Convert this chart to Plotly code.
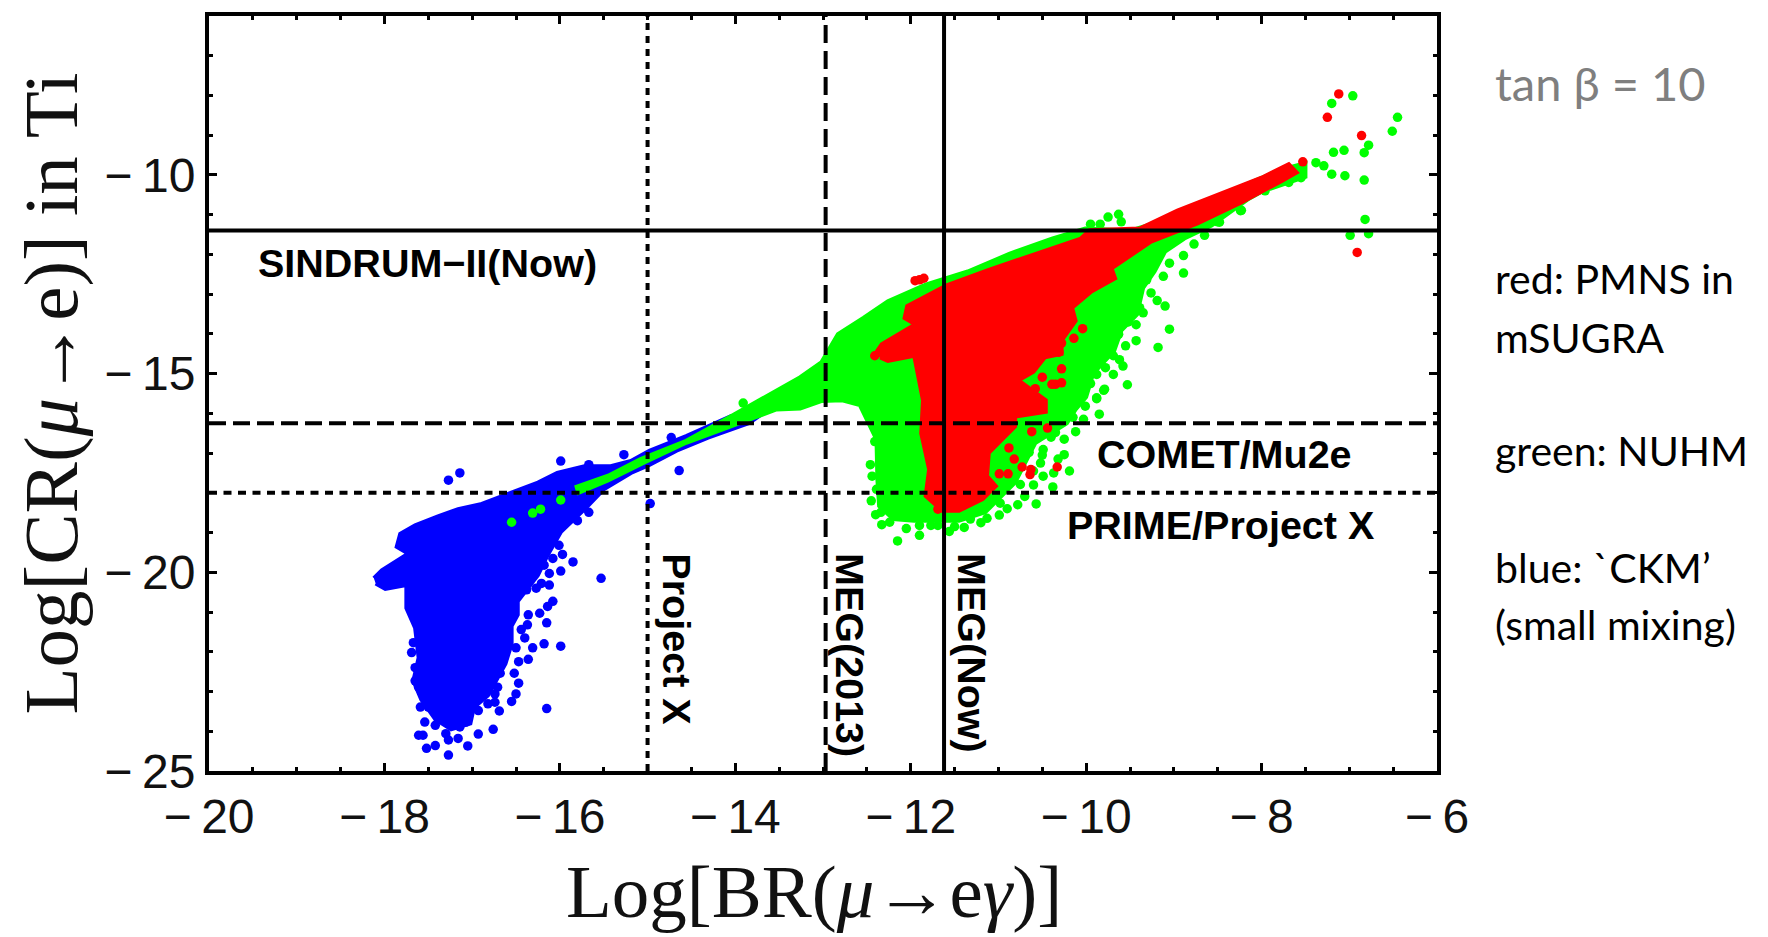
import plotly.graph_objects as go

blue_region_x = [-18.12,-18.03,-17.73,-17.86,-17.82,-17.65,-17.39,-17.16,-16.89,-16.55,-16.25,-16.03,-15.72,-15.42,-15.19,-14.98,-14.56,-14.05,-13.68,-13.84,-14.31,-14.67,-14.98,-15.19,-15.5,-15.68,-15.99,-16.14,-16.25,-16.48,-16.48,-16.55,-16.55,-16.62,-16.72,-16.82,-16.98,-17.02,-17.24,-17.42,-17.58,-17.67,-17.61,-17.65,-17.75,-17.75,-17.99,-18.1]
blue_region_y = [-20.15,-19.95,-19.53,-19.36,-19.03,-18.82,-18.59,-18.41,-18.28,-17.99,-17.74,-17.5,-17.33,-17.33,-17.2,-16.94,-16.57,-16.07,-15.99,-16.24,-16.61,-16.94,-17.30,-17.5,-17.91,-18.33,-18.99,-19.57,-20.07,-20.73,-21.07,-21.35,-21.8,-22.3,-22.7,-23.1,-23.4,-23.8,-23.95,-23.7,-23.2,-22.73,-22.15,-21.4,-20.9,-20.32,-20.42,-20.28]
blue_x = [-17.27,-17.14,-15.99,-15.67,-15.27,-15.67,-15.8,-15.53,-15.85,-15.99,-15.97,-16.01,-16.08,-16.12,-16.18,-16.12,-16.21,-16.27,-16.38,-16.08,-16.14,-16.23,-16.15,-16.36,-16.37,-16.44,-16.4,-16.31,-16.18,-15.99,-16.5,-16.36,-16.47,-16.68,-16.52,-16.47,-16.5,-16.55,-16.71,-16.74,-16.74,-16.69,-16.15,-16.82,-16.93,-16.95,-16.76,-16.93,-17.05,-17.16,-17.27,-17.3,-17.27,-17.42,-17.52,-17.61,-17.56,-17.54,-17.42,-17.59,-17.5,-17.65,-17.69,-17.67,-17.65,-17.61,-17.07,-17.33,-17.14,-14.73,-14.64,-14.97]
blue_y = [-17.68,-17.5,-17.2,-17.29,-17.04,-18.49,-18.7,-20.15,-19.74,-19.97,-19.55,-19.32,-19.65,-20.03,-19.82,-20.32,-20.28,-20.4,-20.44,-20.73,-20.86,-21.03,-21.27,-21.07,-21.32,-21.44,-21.65,-21.9,-21.8,-21.86,-21.9,-22.19,-22.25,-22.54,-22.54,-22.79,-23.06,-23.25,-22.89,-23.06,-23.27,-23.49,-23.43,-23.31,-23.48,-23.23,-23.95,-24.07,-24.37,-24.18,-24.6,-24.06,-24.22,-24.36,-24.43,-24.1,-24.1,-23.77,-23.85,-23.39,-23.39,-22.4,-22.02,-21.77,-22.73,-22.89,-23.77,-23.64,-23.89,-16.61,-17.44,-18.27]

green_region_x = [-15.83,-15.45,-15.08,-14.56,-14.05,-13.58,-13.37,-13.26,-13.02,-12.83,-12.54,-12.26,-11.83,-11.35,-10.87,-10.39,-10.01,-9.5,-9.2,-8.48,-7.77,-7.5,-7.5,-8.0,-8.16,-8.57,-8.88,-9.1,-9.22,-9.35,-9.42,-9.6,-9.68,-9.92,-10.0,-10.12,-10.22,-10.58,-10.69,-10.81,-11.0,-11.15,-11.45,-11.96,-12.2,-12.36,-12.38,-12.39,-12.58,-12.78,-13.02,-13.26,-13.53,-14.05,-14.56,-15.03,-15.45,-15.81]
green_region_y = [-17.86,-17.57,-17.15,-16.69,-16.07,-15.49,-15.24,-15.09,-14.72,-14.01,-13.6,-13.18,-12.76,-12.43,-11.98,-11.6,-11.35,-11.4,-11.2,-10.52,-9.86,-9.7,-10.05,-10.42,-10.62,-11.27,-11.6,-11.93,-12.43,-12.84,-13.51,-13.92,-14.42,-15.0,-15.59,-15.9,-16.25,-16.75,-17.25,-17.74,-18.16,-18.49,-18.7,-18.7,-18.66,-18.33,-17.66,-16.66,-15.79,-15.67,-15.69,-15.88,-15.9,-16.32,-16.74,-17.23,-17.69,-18.02]
green_x = [-16.55,-16.31,-16.22,-15.99,-13.91,-6.96,-7.2,-6.45,-6.51,-6.78,-6.83,-7.06,-7.18,-6.83,-7.05,-7.2,-6.82,-6.99,-6.78,-7.38,-7.29,-7.55,-7.69,-7.96,-12.15,-11.9,-12.33,-12.24,-12.34,-12.32,-12.39,-12.44,-12.46,-12.41,-11.56,-11.39,-11.32,-11.13,-10.99,-10.98,-10.57,-10.7,-10.75,-10.6,-10.38,-10.19,-10.37,-10.49,-10.52,-10.32,-10.25,-10.49,-10.65,-10.25,-10.35,-10.12,-10.03,-9.85,-10.01,-9.88,-9.79,-10.16,-10.31,-10.09,-10.24,-11.9,-11.77,-11.69,-9.05,-9.18,-9.43,-9.1,-9.19,-9.26,-8.89,-8.89,-8.77,-9.05,-9.12,-9.31,-9.43,-9.35,-9.43,-9.39,-9.63,-9.69,-9.58,-9.69,-9.53,-9.8,-9.88,-9.88,-10.01,-8.65,-8.5,-8.23,-9.63,-9.75,-9.6,-9.95,-9.84,-8.24,-8.48,-9.52,-9.55,-9.62,-9.78,-9.95,-10.12,-10.15,-10.4,-10.5,-10.6,-10.78,-10.9,-11.2,-11.5,-12.05,-12.4,-12.45]
green_y = [-18.74,-18.51,-18.41,-18.18,-15.74,-8.01,-8.2,-8.55,-8.9,-9.25,-9.44,-9.38,-9.43,-10.13,-10.02,-9.98,-11.12,-11.52,-11.48,-9.69,-9.77,-10.07,-10.19,-10.4,-19.21,-19.07,-18.8,-18.74,-18.49,-18.16,-17.91,-17.58,-17.29,-16.71,-18.97,-18.87,-18.66,-18.64,-18.56,-18.26,-18.28,-18.09,-17.79,-17.8,-17.85,-17.45,-17.5,-17.58,-17.25,-17.15,-17.04,-16.91,-16.98,-16.65,-16.48,-16.46,-16.15,-16.02,-15.82,-15.63,-15.39,-15.5,-15.54,-15.34,-15.88,-18.82,-18.82,-18.82,-13.88,-14.34,-14.17,-13.3,-13.16,-12.97,-12.47,-12.03,-11.74,-12.22,-12.55,-12.64,-13.05,-13.47,-13.77,-13.34,-14.01,-14.55,-14.81,-15.02,-15.28,-15.42,-15.61,-15.02,-15.38,-11.52,-11.18,-10.89,-10.99,-11.06,-11.18,-11.24,-11.24,-10.9,-11.19,-13.7,-14.3,-14.65,-14.85,-15.25,-15.7,-16.1,-16.6,-17.05,-17.45,-18.3,-18.4,-18.75,-18.85,-18.9,-18.55,-18.2]

red_region_x = [-12.42,-12.33,-11.95,-12.07,-12.04,-11.83,-11.59,-11.11,-10.58,-10.06,-9.96,-9.39,-8.96,-8.48,-8.0,-7.69,-7.6,-7.77,-8.23,-8.73,-9.26,-9.71,-9.67,-9.94,-10.16,-10.12,-10.28,-10.28,-10.47,-10.6,-10.77,-10.46,-10.46,-10.81,-10.81,-11.0,-11.11,-11.13,-11.03,-11.18,-11.45,-11.64,-11.83,-11.79,-11.88,-11.86,-11.9,-11.96,-12.26,-12.35]
red_region_y = [-14.55,-14.26,-13.76,-13.6,-13.3,-13.06,-12.78,-12.39,-11.98,-11.6,-11.39,-11.35,-10.9,-10.48,-10.07,-9.73,-9.94,-10.15,-10.69,-11.22,-11.68,-12.35,-12.6,-12.93,-13.34,-13.67,-14.17,-14.5,-14.59,-14.95,-15.17,-15.67,-15.96,-16.08,-16.33,-16.75,-16.99,-17.58,-17.83,-18.16,-18.45,-18.45,-18.08,-17.41,-16.5,-15.67,-15.17,-14.55,-14.68,-14.59]
red_x = [-7.12,-7.25,-6.86,-6.91,-7.53,-11.9,-11.85,-11.95,-12.41,-10.04,-10.14,-10.28,-10.28,-10.28,-10.39,-10.5,-10.31,-10.88,-10.82,-10.73,-10.64,-10.63,-10.33,-10.89,-10.99,-10.62,-10.44,-10.54,-10.58,-10.35,-11.69,-11.09]
red_y = [-7.96,-8.55,-9.01,-11.95,-9.67,-12.64,-12.6,-12.66,-14.55,-13.87,-14.11,-14.23,-14.88,-15.23,-15.27,-15.09,-14.46,-16.87,-17.15,-17.35,-17.54,-17.41,-17.35,-17.52,-17.52,-16.46,-16.37,-15.83,-15.38,-15.27,-18.41,-17.79]

x_range = [-20, -6]
y_range = [-25, -6]
x_ticks = [-20, -18, -16, -14, -12, -10, -8, -6]
y_ticks = [-25, -20, -15, -10]
x_labels = ["\u2212\u200920", "\u2212\u200918", "\u2212\u200916", "\u2212\u200914", "\u2212\u200912", "\u2212\u200910", "\u2212\u20098", "\u2212\u20096"]
y_labels = ["\u2212\u200925", "\u2212\u200920", "\u2212\u200915", "\u2212\u200910"]

h_lines = [(-11.4, "solid"), (-16.25, "17px,7px"), (-18.0, "8px,6.5px")]
v_lines = [(-15.0, "7px,6px"), (-12.97, "18px,8px"), (-11.62, "solid")]

plot_labels = [
    ("SINDRUM\u2212II(Now)", -19.46, -12.22, 0),
    ("COMET/Mu2e", -9.9, -17.02, 0),
    ("PRIME/Project X", -10.24, -18.82, 0),
    ("Project X", -14.66, -19.47, 90),
    ("MEG(2013)", -12.69, -19.47, 90),
    ("MEG(Now)", -11.31, -19.47, 90),
]
side_notes = [
    ("tan \u03b2 = 10", 82, 47, "#7f7f7f"),
    ("red: PMNS in", 277, 41, "#000000"),
    ("mSUGRA", 336, 41, "#000000"),
    ("green: NUHM", 449, 41, "#000000"),
    ("blue: `CKM\u2019", 566, 41, "#000000"),
    ("(small mixing)", 623, 41, "#000000"),
]
x_title = "Log[BR(<i>\u03bc</i>\u2192e<i>\u03b3</i>)]"
y_title = "Log[CR(<i>\u03bc</i>\u2192e)] in Ti"

BLUE, GREEN, RED = "#0000ff", "#00ff00", "#ff0000"
fig = go.Figure()
for rx, ry, px, py, c in [
    (blue_region_x, blue_region_y, blue_x, blue_y, BLUE),
    (green_region_x, green_region_y, green_x, green_y, GREEN),
    (red_region_x, red_region_y, red_x, red_y, RED),
]:
    fig.add_trace(go.Scatter(x=rx, y=ry, mode="lines", fill="toself", fillcolor=c,
                             line=dict(color=c, width=4), hoverinfo="skip", showlegend=False))
    fig.add_trace(go.Scatter(x=px, y=py, mode="markers", marker=dict(color=c, size=9.5),
                             showlegend=False))

for val, dash in h_lines:
    fig.add_trace(go.Scatter(x=x_range, y=[val, val], mode="lines", showlegend=False,
                             line=dict(color="black", width=4, dash=dash)))
for val, dash in v_lines:
    fig.add_trace(go.Scatter(x=[val, val], y=y_range, mode="lines", showlegend=False,
                             line=dict(color="black", width=4, dash=dash)))

for text, x, y, ang in plot_labels:
    fig.add_annotation(x=x, y=y, text="<b>%s</b>" % text, showarrow=False, textangle=ang,
                       xanchor="left" if ang == 0 else "center",
                       yanchor="middle" if ang == 0 else "top",
                       font=dict(family="Liberation Sans", size=39.5, color="black"))
for text, py, size, color in side_notes:
    fig.add_annotation(xref="paper", yref="paper", x=(1490 - 206) / 1228, y=1 - (py - 15) / 755,
                       text=text, showarrow=False, xanchor="left", yanchor="middle",
                       font=dict(family="Lato", size=size, color=color))
fig.add_annotation(xref="paper", yref="paper", x=0.493, y=-0.16, text=x_title, showarrow=False,
                   xanchor="center", yanchor="middle",
                   font=dict(family="Liberation Serif", size=75, color="#111111"))

axis = dict(showgrid=False, zeroline=False, showline=True, linecolor="black", linewidth=4,
            mirror="allticks", ticks="inside", tickcolor="black", tickwidth=3, ticklen=8,
            tickfont=dict(family="Liberation Sans", size=48, color="#111111"))
fig.update_xaxes(axis, range=x_range, tickvals=x_ticks, ticktext=x_labels,
                 minor=dict(dtick=0.5, tick0=-20, ticks="inside", ticklen=4, tickwidth=3, tickcolor="black"))
fig.update_yaxes(axis, range=y_range, tickvals=y_ticks, ticktext=y_labels,
                 minor=dict(dtick=1, tick0=-25, ticks="inside", ticklen=4, tickwidth=3, tickcolor="black"),
                 title=dict(text=y_title, standoff=30,
                            font=dict(family="Liberation Serif", size=77, color="#111111")))
fig.update_layout(width=1752, height=929, autosize=False, paper_bgcolor="white", plot_bgcolor="white",
                  margin=dict(l=201, r=323, t=8, b=166, autoexpand=False), showlegend=False)
fig.write_html("out.html")
